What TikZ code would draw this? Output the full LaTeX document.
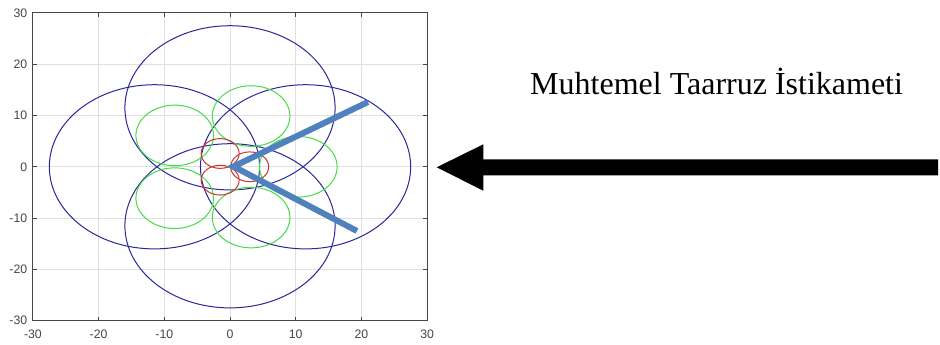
\documentclass[tikz,border=0pt]{standalone}
\usepackage{fontspec}
\setmainfont{Liberation Serif}
\newfontfamily\axfont{Liberation Sans}
\begin{document}
\begin{tikzpicture}[x=1pt,y=-1pt]
\definecolor{axgray}{RGB}{70,70,70}
\definecolor{gridgray}{RGB}{224,224,224}
\definecolor{cblue}{RGB}{40,40,155}
\definecolor{cgreen}{RGB}{70,220,70}
\definecolor{cred}{RGB}{200,55,55}
\definecolor{vblue}{RGB}{79,129,189}
\tikzset{
  gridline/.style={draw=gridgray, line width=0.8pt},
  axbox/.style={draw=axgray, line width=0.9pt},
  axtick/.style={draw=axgray, line width=0.8pt},
  ticklabel/.style={inner sep=0pt, text=axgray, font=\axfont\fontsize{12.3}{14}\selectfont},
  bigcirc/.style={draw=cblue, line width=1pt},
  midcirc/.style={draw=cgreen, line width=1pt},
  smallcirc/.style={draw=cred, line width=1pt},
  vline/.style={draw=vblue, line width=6pt, line join=miter},
  bigarrow/.style={fill=black, draw=none},
  caption/.style={inner sep=0pt, font=\fontsize{32}{38}\selectfont}
}
\useasboundingbox (0,0) rectangle (940,345);
\fill[white] (0,0) rectangle (940,345);
\begin{scope}[shift={(230,166.8)}, x=6.57pt, y=5.13pt]
  % grid
  \foreach \v in {-20,-10,0,10,20} {
    \draw[gridline] (\v,-30) -- (\v,30);
    \draw[gridline] (-30,\v) -- (30,\v);
  }
  % blue circles (r = 16)
  \foreach \c in {(0,11.5),(0,-11.5),(11.5,0),(-11.5,0)} {
    \draw[bigcirc] \c ellipse [x radius=105.1pt, y radius=82.1pt];
  }
  % green circles (r = 5.9)
  \foreach \a in {0,72,144,216,288} {
    \draw[midcirc] ({10.4*cos(\a)},{10.4*sin(\a)}) ellipse [x radius=38.8pt, y radius=30.3pt];
  }
  % red circles (r = 2.9)
  \foreach \a in {0,120,240} {
    \draw[smallcirc] ({3*cos(\a)},{3*sin(\a)}) ellipse [x radius=19pt, y radius=14.9pt];
  }
  % box
  \draw[axbox] (-30,-30) rectangle (30,30);
  % ticks
  \foreach \v in {-20,-10,0,10,20} {
    \draw[axtick] (\v,-30) -- ++(0pt,4pt);
    \draw[axtick] (\v,30) -- ++(0pt,-4pt);
    \draw[axtick] (-30,\v) -- ++(4pt,0pt);
    \draw[axtick] (30,\v) -- ++(-4pt,0pt);
  }
  % tick labels
  \foreach \v in {-30,-20,-10,0,10,20,30} {
    \node[ticklabel, anchor=north] (xl\v) at ([yshift=-9.5pt]\v,-30) {\v};
    \node[ticklabel, anchor=east] (yl\v) at ([xshift=-5.5pt]-30,\v) {\v};
  }
\end{scope}
% blue V
\coordinate (vtop) at (368,102);
\coordinate (vtip) at (233.5,166.5);
\coordinate (vbot) at (357,231);
\draw[vline] (vtop) -- (vtip) -- (vbot);
% big arrow
\fill[bigarrow] (938,159.3) -- (483.3,159.3) -- (483.3,144.3) -- (436.7,167.3)
  -- (483.3,190.7) -- (483.3,175.3) -- (938,175.3) -- cycle;
% caption
\node[caption, anchor=base west] (title) at (530,95) {Muhtemel Taarruz İstikameti};
\end{tikzpicture}
\end{document}
